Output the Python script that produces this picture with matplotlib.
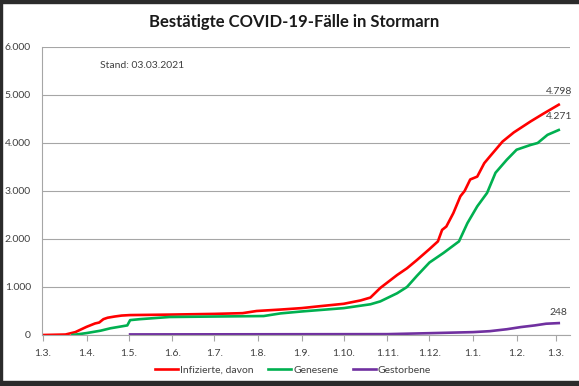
import datetime as dt
import matplotlib
matplotlib.use("Agg")
import matplotlib.pyplot as plt
import matplotlib.dates as mdates
from matplotlib.patches import Rectangle

inf_dates = ["2020-03-01", "2020-03-17", "2020-03-24", "2020-04-01", "2020-04-07", "2020-04-10",
             "2020-04-13", "2020-04-16", "2020-04-21", "2020-04-26", "2020-05-02", "2020-05-30",
             "2020-07-01", "2020-07-21", "2020-07-31", "2020-08-17", "2020-09-01", "2020-09-14",
             "2020-10-01", "2020-10-13", "2020-10-20", "2020-10-27", "2020-11-08", "2020-11-15",
             "2020-11-22", "2020-12-01", "2020-12-07", "2020-12-10", "2020-12-13", "2020-12-18",
             "2020-12-23", "2020-12-26", "2020-12-30", "2021-01-04", "2021-01-09", "2021-01-13",
             "2021-01-22", "2021-01-30", "2021-02-11", "2021-02-20", "2021-03-03"]
infizierte = [0, 10, 60, 170, 240, 260, 330, 360, 385, 405, 415, 425,
              440, 455, 500, 530, 560, 600, 650, 720, 780, 980, 1250, 1390,
              1560, 1790, 1950, 2190, 2260, 2540, 2890, 3000, 3240, 3300, 3580, 3720,
              4030, 4220, 4450, 4610, 4798]

gen_dates = ["2020-03-22", "2020-03-27", "2020-04-01", "2020-04-11", "2020-04-18", "2020-04-25",
             "2020-04-30", "2020-05-02", "2020-05-09", "2020-05-30", "2020-07-01", "2020-08-05",
             "2020-08-17", "2020-09-01", "2020-10-01", "2020-10-20", "2020-10-27", "2020-11-08",
             "2020-11-15", "2020-11-22", "2020-12-01", "2020-12-11", "2020-12-22", "2020-12-28",
             "2021-01-04", "2021-01-11", "2021-01-17", "2021-01-25", "2021-02-01", "2021-02-11",
             "2021-02-16", "2021-02-23", "2021-03-03"]
genesene = [0, 20, 40, 90, 140, 175, 200, 310, 330, 375, 385, 395,
            450, 490, 560, 640, 700, 870, 1000, 1230, 1510, 1710, 1950, 2330,
            2680, 2960, 3380, 3650, 3860, 3960, 4000, 4170, 4271]

gest_dates = ["2020-05-02", "2020-11-01", "2020-11-16", "2020-12-01", "2021-01-01", "2021-01-13",
              "2021-01-25", "2021-02-04", "2021-02-14", "2021-02-22", "2021-03-03"]
gestorbene = [12, 18, 28, 38, 60, 80, 120, 165, 200, 235, 248]

yticks = [0, 1000, 2000, 3000, 4000, 5000, 6000]


def to_dates(lst):
    return [dt.datetime.strptime(s, "%Y-%m-%d") for s in lst]


plt.rcParams['font.family'] = ['Lato', 'DejaVu Sans']

fig = plt.figure(figsize=(5.79, 3.86), dpi=100)
ax = fig.add_axes([42 / 579, 1 - 335 / 386, 528 / 579, 288 / 386])

ax.plot(to_dates(inf_dates), infizierte, color="#ff0000", lw=1.9, label="Infizierte, davon")
ax.plot(to_dates(gen_dates), genesene, color="#00b050", lw=1.9, label="Genesene")
ax.plot(to_dates(gest_dates), gestorbene, color="#7030a0", lw=1.9, label="Gestorbene")

ax.set_ylim(0, 6000)
ax.set_xlim(mdates.date2num(dt.datetime(2020, 3, 1)) - 0.7,
            mdates.date2num(dt.datetime(2021, 3, 11)))
ax.set_yticks(yticks)
ax.set_yticklabels([f"{v:,}".replace(",", ".") for v in yticks])
ax.yaxis.grid(True, color="#a6a6a6", lw=0.8)
ax.set_axisbelow(True)

ax.xaxis.set_major_locator(mdates.MonthLocator(bymonthday=1))
ax.xaxis.set_major_formatter(plt.FuncFormatter(
    lambda v, p: f"{mdates.num2date(v).day}.{mdates.num2date(v).month}."))

for s in ["top", "right"]:
    ax.spines[s].set_visible(False)
for s in ["left", "bottom"]:
    ax.spines[s].set_color("#a6a6a6")
    ax.spines[s].set_linewidth(0.8)
ax.tick_params(axis="x", length=4, color="#a6a6a6", labelsize=7.5, labelcolor="#404040", pad=6)
ax.tick_params(axis="y", length=0, labelsize=7.5, labelcolor="#404040", pad=8)

# end labels
last = dt.datetime(2021, 3, 3)
ax.annotate("4.798", (last, infizierte[-1]), xytext=(0, 8), textcoords="offset points",
            ha="center", fontsize=7.5, color="#404040")
ax.annotate("4.271", (last, genesene[-1]), xytext=(0, 8), textcoords="offset points",
            ha="center", fontsize=7.5, color="#404040")
ax.annotate("248", (last, gestorbene[-1]), xytext=(0, 6), textcoords="offset points",
            ha="center", fontsize=7.5, color="#404040")

fig.text(100 / 579, 1 - 66 / 386, "Stand: 03.03.2021", fontsize=7.5, color="#404040",
         va="center")
fig.text(294 / 579, 1 - 22 / 386, "Bestätigte COVID-19-Fälle in Stormarn",
         fontsize=12, fontweight="bold", ha="center", va="center", color="#1a1a1a")

fig.legend(loc="center", bbox_to_anchor=(293 / 579, 1 - 370 / 386), ncol=3,
           frameon=False, fontsize=7.5, handlelength=2.2, handletextpad=0.2,
           columnspacing=1.4, labelcolor="#404040")

# dark screenshot borders
fig.patches.append(Rectangle((0, 1 - 3 / 386), 1, 3 / 386, transform=fig.transFigure,
                             color="#2b2b2b", zorder=10))
fig.patches.append(Rectangle((0, 0), 1, 5 / 386, transform=fig.transFigure,
                             color="#2b2b2b", zorder=10))
fig.patches.append(Rectangle((0, 0), 2 / 579, 1, transform=fig.transFigure,
                             color="#2b2b2b", zorder=10))

fig.savefig("out.png", dpi=100)
